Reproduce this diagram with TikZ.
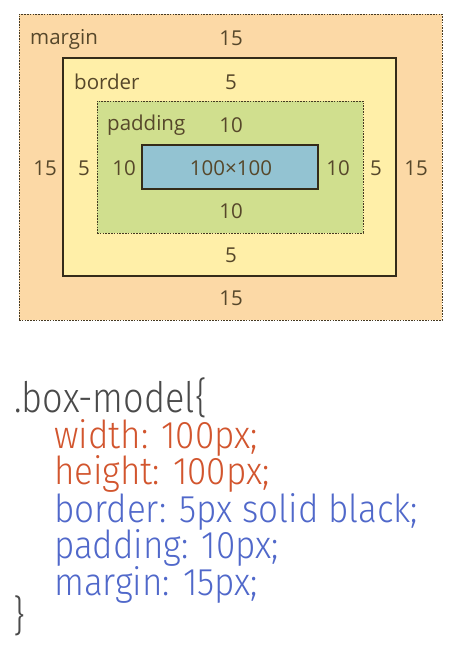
\documentclass[tikz,border=0pt]{standalone}
\usepackage{fontspec}
\setmainfont{Open Sans}
\newfontfamily\codefont{Fira Sans Light}[FakeStretch=0.91]
\newfontfamily\codefontb{Fira Sans Light}[FakeStretch=0.86]
\definecolor{marginfill}{HTML}{FCD9A6}
\definecolor{borderfill}{HTML}{FFEFA8}
\definecolor{padfill}{HTML}{D0DF8E}
\definecolor{contentfill}{HTML}{93C3D2}
\definecolor{lbl}{HTML}{56472A}
\definecolor{codegray}{HTML}{4A4A4A}
\definecolor{codered}{HTML}{D2552E}
\definecolor{codeblue}{HTML}{5068CA}
\tikzset{
  area/.style={inner sep=0pt, outer sep=0pt, rectangle},
  dotbox/.style={area, draw=lbl!80!black, line width=0.9pt, dash pattern=on 1.6pt off 1.2pt},
  solidbox/.style={area, draw=lbl!60!black, line width=1.2pt},
  lab/.style={text=lbl, font=\fontsize{20.5}{22}\selectfont, inner sep=0pt, anchor=center},
  code/.style={font=\codefont\fontsize{38.5}{40}\selectfont, inner sep=0pt, anchor=base west},
  codehead/.style={font=\codefontb\fontsize{42}{44}\selectfont, inner sep=0pt, anchor=base west}
}
\begin{document}
\begin{tikzpicture}[x=1pt,y=-1pt]
\useasboundingbox (0,0) rectangle (473,657);
\fill[white] (0,0) rectangle (473,657);
% boxes
\node[dotbox, fill=marginfill, minimum width=423pt, minimum height=306pt] (marginbox) at (230.5,167) {};
\node[solidbox, fill=borderfill, minimum width=333pt, minimum height=218pt] (borderbox) at (229.5,167) {};
\node[dotbox, fill=padfill, minimum width=266pt, minimum height=132pt] (padbox) at (230,167) {};
\node[solidbox, fill=contentfill, minimum width=176pt, minimum height=44pt] (contentbox) at (230,167) {};
% labels
\node[lab, anchor=west] (lmargin) at (30,39) {margin};
\node[lab] (mt) at (231,38) {15};
\node[lab, anchor=west] (lborder) at (74,82) {border};
\node[lab] (bt) at (231,82) {5};
\node[lab, anchor=west] (lpad) at (107,125) {padding};
\node[lab] (pt) at (231,125) {10};
\node[lab] (ml) at (45,168) {15};
\node[lab] (bl) at (84,168) {5};
\node[lab] (pl) at (124,168) {10};
\node[lab] (content) at (231,168) {100×100};
\node[lab] (pr) at (338,168) {10};
\node[lab] (br) at (376,168) {5};
\node[lab] (mr) at (416,168) {15};
\node[lab] (pb) at (231,211) {10};
\node[lab] (bb) at (231,255) {5};
\node[lab] (mb) at (231,298) {15};
% code
\node[codehead, text=codegray] (c0) at (14,412) {.box-model\{};
\node[code, text=codered] (c1) at (54,448) {width: 100px;};
\node[code, text=codered] (c2) at (54,484) {height: 100px;};
\node[code, text=codeblue] (c3) at (54,522) {border: 5px solid black;};
\node[code, text=codeblue] (c4) at (54,558) {padding: 10px;};
\node[code, text=codeblue] (c5) at (54,595) {margin: 15px;};
\node[codehead, text=codegray] (c6) at (13,630) {\}};
\end{tikzpicture}
\end{document}
